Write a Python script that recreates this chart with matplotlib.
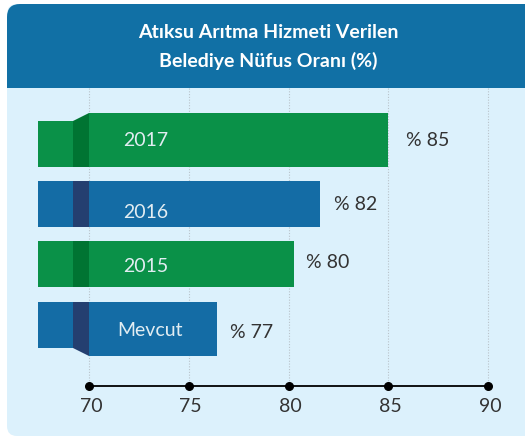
import matplotlib
matplotlib.use("Agg")
import matplotlib.pyplot as plt
from matplotlib.patches import FancyBboxPatch, Rectangle, Polygon

# ---- data ----
categories = ["2017", "2016", "2015", "Mevcut"]
bar_lengths = [85.0, 81.6, 80.3, 76.4]   # drawn bar ends (axis units)
value_labels = ["% 85", "% 82", "% 80", "% 77"]
ticks = [70, 75, 80, 85, 90]
title_lines = ["Atıksu Arıtma Hizmeti Verilen", "Belediye Nüfus Oranı (%)"]

# ---- style ----
GREEN, DGREEN = "#0a9148", "#007432"
BLUE, NAVY = "#146ca5", "#243f70"
bar_colors = [GREEN, BLUE, GREEN, BLUE]
dark_colors = [DGREEN, NAVY, DGREEN, NAVY]
HEADER = "#1170a5"
PANEL = "#dcf1fc"
TXT = "#333333"
FONT = "Lato"

W, H = 525, 437
fig = plt.figure(figsize=(W / 100, H / 100), dpi=100)
fig.patch.set_facecolor("white")

# background axes in pixel coords
bg = fig.add_axes([0, 0, 1, 1])
bg.set_xlim(0, W)
bg.set_ylim(H, 0)
bg.axis("off")
bg.add_patch(FancyBboxPatch((7, 4), 540, 432, boxstyle="round,pad=0,rounding_size=10",
                            fc=PANEL, ec="none"))
bg.add_patch(FancyBboxPatch((7, 4), 540, 84, boxstyle="round,pad=0,rounding_size=13",
                            fc=HEADER, ec="none"))
bg.add_patch(Rectangle((7, 40), 540, 48, fc=HEADER, ec="none"))
bg.text(268, 33, title_lines[0], color="white", fontsize=14, fontweight="bold",
        family=FONT, ha="center", va="center")
bg.text(268, 61, title_lines[1], color="white", fontsize=14, fontweight="bold",
        family=FONT, ha="center", va="center")

# data axes: x in value units, y in pixels
PX = 19.95
X0 = 89
ax = fig.add_axes([0, 0, 1, 1])
ax.patch.set_alpha(0)
ax.set_xlim(70 - X0 / PX, 70 + (W - X0) / PX)
ax.set_ylim(H, 0)
ax.axis("off")

def v(px):
    return 70 + (px - X0) / PX

AXIS_Y = 386
ax.vlines(ticks, 88, AXIS_Y, colors="#b9c3ca", linestyles=(0, (1, 1.5)), lw=0.8, zorder=1)

# bar geometry (pixels)
main_top = [113, 181, 241, 302]
main_bot = [167, 227, 287, 356]
left_top = [121, 181, 241, 302]
left_bot = [167, 227, 287, 348]
label_y = [140, 213, 266, 330]
val_y = [141, 204, 263, 332]
val_off = [18, 14, 12, 13]

for i, cat in enumerate(categories):
    ax.barh((main_top[i] + main_bot[i]) / 2, bar_lengths[i] - 70, left=70,
            height=main_bot[i] - main_top[i], color=bar_colors[i], zorder=3)
    ax.barh((left_top[i] + left_bot[i]) / 2, v(73) - v(38), left=v(38),
            height=left_bot[i] - left_top[i], color=bar_colors[i], zorder=3)
    poly = [(v(73), left_top[i]), (70, main_top[i]), (70, main_bot[i]), (v(73), left_bot[i])]
    ax.add_patch(Polygon(poly, closed=True, fc=dark_colors[i], ec="none", zorder=4))
    ax.text(v(146 if cat != "Mevcut" else 150), label_y[i], cat, color="#e2edf2",
            fontsize=14, family=FONT, ha="center", va="center", zorder=5)
    ax.text(bar_lengths[i] + val_off[i] / PX, val_y[i], value_labels[i], color=TXT,
            fontsize=14, family=FONT, ha="left", va="center", zorder=5)

ax.plot([ticks[0], ticks[-1]], [AXIS_Y, AXIS_Y], color="black", lw=1.3, zorder=5)
ax.scatter(ticks, [AXIS_Y] * len(ticks), s=30, color="black", zorder=6)
for t in ticks:
    ax.text(t + 0.1, 407, str(t), color=TXT, fontsize=14, family=FONT,
            ha="center", va="center")

fig.savefig("out.png", dpi=100)
